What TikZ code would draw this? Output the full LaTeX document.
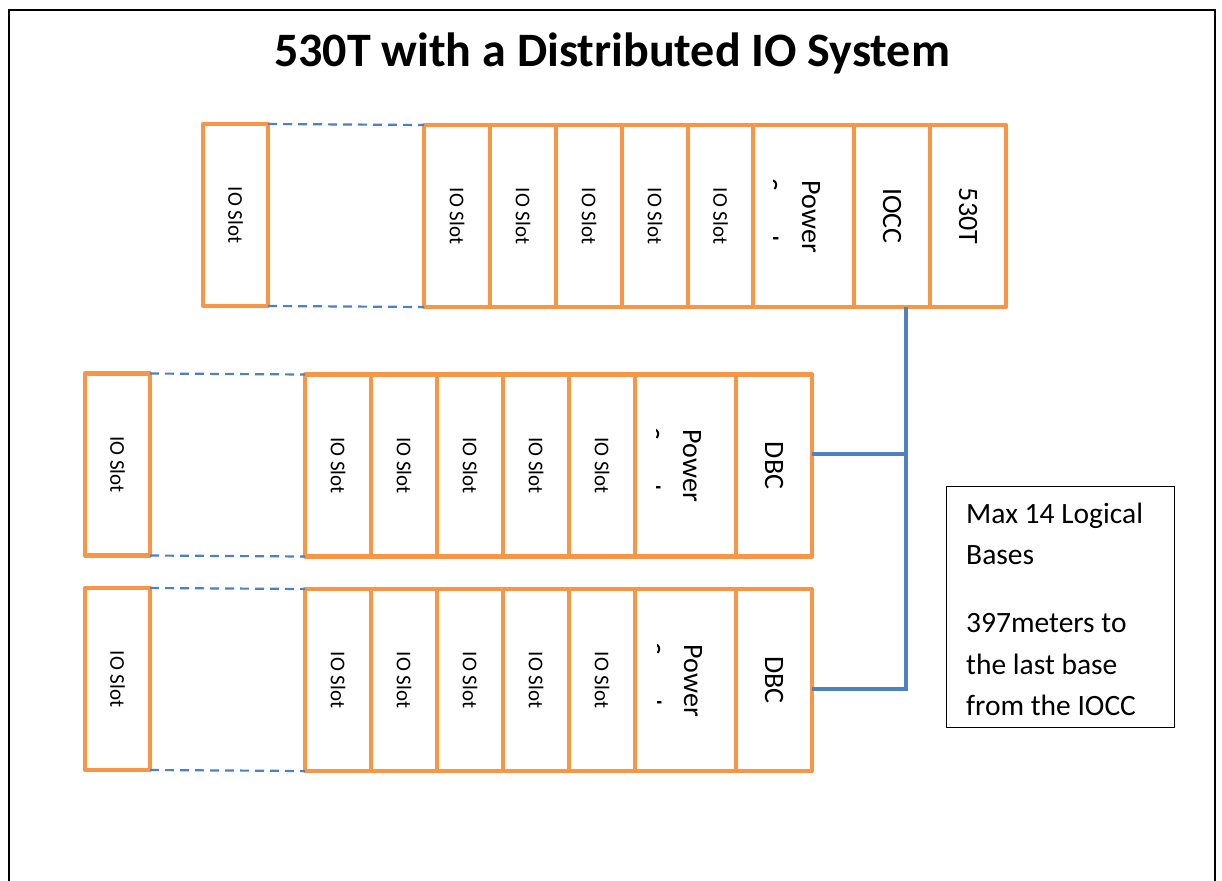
\documentclass[tikz,border=0pt]{standalone}
\usepackage{fontspec}
\usepackage{graphicx}
\setmainfont{Carlito}
\definecolor{orng}{HTML}{F79646}
\definecolor{blu}{HTML}{4F81BD}
\begin{document}
\begin{tikzpicture}[x=1pt,y=-1pt,
  slot/.style={draw=orng, line width=4.5pt, line join=round, fill=white,
    minimum width=#1, minimum height=182, inner sep=0pt, outer sep=0pt},
  small/.style={font=\fontsize{21}{25}\selectfont},
  big/.style={font=\fontsize{28}{34}\selectfont},
  rotlabel/.style={rotate=-90, anchor=base, inner sep=0pt, font=\fontsize{28}{34}\selectfont},
  link/.style={draw=blu, line width=2.2pt, dash pattern=on 9pt off 6pt},
  bus/.style={draw=blu, line width=3.6pt},
  note/.style={draw=black, line width=1.1pt, minimum width=228, minimum height=241,
    anchor=north west, inner sep=0pt},
  notetext/.style={anchor=north west, align=left, inner sep=0pt,
    font=\fontsize{29.5}{41.5}\selectfont},
  titlestyle/.style={anchor=base, inner sep=0pt, font=\bfseries\fontsize{48}{58}\selectfont}]
\useasboundingbox (0,0) rectangle (1222,880);
\fill[white] (0,0) rectangle (1222,880);
% frame
\draw[line width=2pt] (9,895) -- (9,10) -- (1215,10) -- (1215,895);
% title
\node[titlestyle] (title) at (612,67) {530T with a Distributed IO System};

% ---------- top rack ----------
\node[slot=65, small] (lt) at (235.5,215) {\rotatebox{-90}{IO Slot}};
\node[slot=66, small] (t1) at (457,216) {\rotatebox{-90}{IO Slot}};
\node[slot=66, small] (t2) at (523,216) {\rotatebox{-90}{IO Slot}};
\node[slot=66, small] (t3) at (589,216) {\rotatebox{-90}{IO Slot}};
\node[slot=66, small] (t4) at (655,216) {\rotatebox{-90}{IO Slot}};
\node[slot=65, small] (t5) at (720.5,216) {\rotatebox{-90}{IO Slot}};
\node[slot=101] (tp) at (803.5,216) {};
\node[slot=76, big] (iocc) at (892,216) {\rotatebox{-90}{IOCC}};
\node[slot=76, big] (cpu) at (968,216) {\rotatebox{-90}{530T}};
\node[rotlabel] (tpw) at (802,217) {Power};
\begin{scope}
  \clip (773,128) rectangle (851,304);
  \node[rotlabel] (tps) at (759,217) {Supply};
\end{scope}
\draw[link] (lt.north east) -- (t1.north west);
\draw[link] (lt.south east) -- (t1.south west);

% ---------- middle rack ----------
\node[slot=65, small] (lm) at (117.5,464.5) {\rotatebox{-90}{IO Slot}};
\node[slot=66, small] (m1) at (338,465.5) {\rotatebox{-90}{IO Slot}};
\node[slot=66, small] (m2) at (404,465.5) {\rotatebox{-90}{IO Slot}};
\node[slot=66, small] (m3) at (470,465.5) {\rotatebox{-90}{IO Slot}};
\node[slot=66, small] (m4) at (536,465.5) {\rotatebox{-90}{IO Slot}};
\node[slot=66, small] (m5) at (602,465.5) {\rotatebox{-90}{IO Slot}};
\node[slot=101] (mp) at (685.5,465.5) {};
\node[slot=76, big] (dbc2) at (774,465.5) {\rotatebox{-90}{DBC}};
\node[rotlabel] (mpw) at (683,466) {Power};
\begin{scope}
  \clip (656,378) rectangle (733,553);
  \node[rotlabel] (mps) at (641,466) {Supply};
\end{scope}
\draw[link] (lm.north east) -- (m1.north west);
\draw[link] (lm.south east) -- (m1.south west);

% ---------- bottom rack ----------
\node[slot=65, small] (lb) at (117.5,679) {\rotatebox{-90}{IO Slot}};
\node[slot=66, small] (b1) at (338,680) {\rotatebox{-90}{IO Slot}};
\node[slot=66, small] (b2) at (404,680) {\rotatebox{-90}{IO Slot}};
\node[slot=66, small] (b3) at (470,680) {\rotatebox{-90}{IO Slot}};
\node[slot=66, small] (b4) at (536,680) {\rotatebox{-90}{IO Slot}};
\node[slot=66, small] (b5) at (602,680) {\rotatebox{-90}{IO Slot}};
\node[slot=101] (bp) at (685.5,680) {};
\node[slot=76, big] (dbc3) at (774,680) {\rotatebox{-90}{DBC}};
\node[rotlabel] (bpw) at (684,681) {Power};
\begin{scope}
  \clip (657,592) rectangle (733,768);
  \node[rotlabel] (bps) at (642,681) {Supply};
\end{scope}
\draw[link] (lb.north east) -- (b1.north west);
\draw[link] (lb.south east) -- (b1.south west);

% ---------- bus ----------
\coordinate (j2) at (906,454);
\coordinate (j3) at (906,689);
\draw[bus] (iocc.south -| j3) -- (j3) -- (j3 -| dbc3.east);
\draw[bus] (j2) -- (j2 -| dbc2.east);

% ---------- note ----------
\node[note] (box) at (946,486) {};
\node[notetext] (txt) at (966,502.5) {Max 14 Logical\\Bases\\[26.5pt]397meters to\\the last base\\from the IOCC};
\end{tikzpicture}
\end{document}
